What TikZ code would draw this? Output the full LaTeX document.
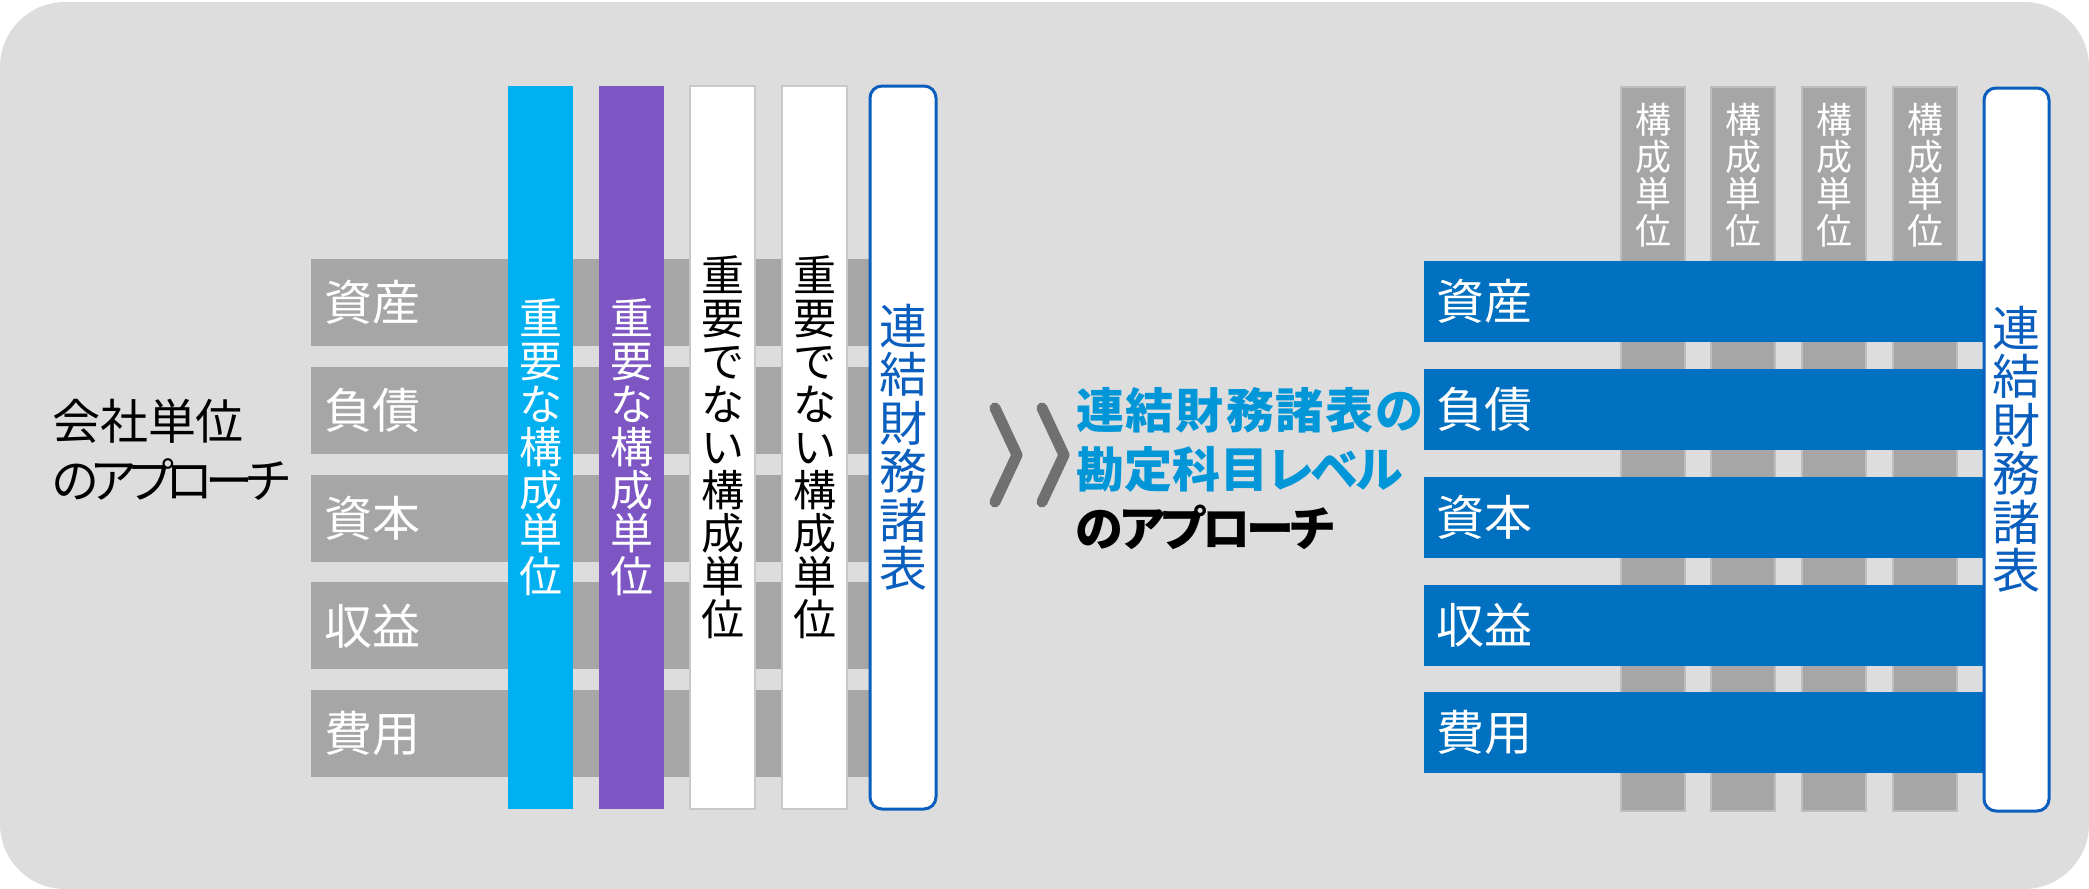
\documentclass[tikz,border=0pt]{standalone}
\usepackage{fontspec}
\newfontfamily\jp{Noto Sans CJK JP}
\newfontfamily\jpp{Noto Sans CJK JP}[RawFeature=+palt]
\definecolor{bgc}{HTML}{DDDDDD}
\definecolor{rowgray}{HTML}{A6A6A6}
\definecolor{colgrayb}{HTML}{BDBDBD}
\definecolor{rowblue}{HTML}{0070C0}
\definecolor{cyanc}{HTML}{00B0F0}
\definecolor{purplec}{HTML}{7E56C4}
\definecolor{wborder}{HTML}{C8C8C8}
\definecolor{outblue}{HTML}{0A5FBE}
\definecolor{midblue}{HTML}{0096D8}
\definecolor{chev}{HTML}{707070}
\newcommand{\kn}{\kern-7pt}
\newcommand{\km}{\kern-3.5pt}
\newcommand{\kp}{\kern2pt}
\begin{document}
\begin{tikzpicture}[x=1pt,y=-1pt,
  every node/.style={inner sep=0pt, outer sep=0pt},
  lrow/.style={rectangle, fill=rowgray, anchor=north west, minimum width=559pt,
    minimum height=87pt, text width=533pt, inner xsep=13pt, align=left,
    text=white, font=\jpp\fontsize{48}{48}\selectfont},
  rrow/.style={rectangle, fill=rowblue, anchor=north west, minimum width=560pt,
    minimum height=81pt, text width=536pt, inner xsep=12pt, align=left,
    text=white, font=\jpp\fontsize{48}{48}\selectfont},
  colbox/.style={rectangle, anchor=north west, minimum width=65pt,
    minimum height=723pt, align=center, font=\jp\fontsize{43}{43}\selectfont},
  whitecol/.style={colbox, fill=white, draw=wborder, line width=2.5pt, text=black},
  outbox/.style={colbox, fill=white, draw=outblue, line width=3pt, rounded corners=12pt,
    text=outblue, font=\jp\fontsize{48}{48.5}\selectfont},
  graycol/.style={rectangle, anchor=north west, minimum width=64pt, minimum height=724pt,
    fill=rowgray, draw=colgrayb, line width=2pt},
  graylbl/.style={anchor=north, align=center, text=white,
    font=\jp\fontsize{36}{37}\selectfont},
  chevron/.style={draw=chev, line width=11pt, line cap=round, line join=round}
]
\useasboundingbox (0,0) rectangle (2089,889);
\fill[bgc, rounded corners=65pt] (0,2) rectangle (2089,889);

% ---------- left: company-unit approach ----------
\node[anchor=west, align=left, font=\jpp\fontsize{48}{59}\selectfont] (lefttitle)
  at (52,449.5) {会社単位\\の\kn ア\kn プ\kn ロ\kn ー\kn チ};

\node[lrow] (la) at (311,259)    {資産};
\node[lrow] (ll) at (311,366.75) {負債};
\node[lrow] (le) at (311,474.5)  {資本};
\node[lrow] (lr) at (311,582.25) {収益};
\node[lrow] (lx) at (311,690)    {費用};

\node[colbox, fill=cyanc, text=white] (c1) at (508,86) {重\\要\\な\\構\\成\\単\\位};
\node[colbox, fill=purplec, text=white] (c2) at (599,86) {重\\要\\な\\構\\成\\単\\位};
\node[whitecol] (c3) at (690,86) {重\\要\\で\\な\\い\\構\\成\\単\\位};
\node[whitecol] (c4) at (782,86) {重\\要\\で\\な\\い\\構\\成\\単\\位};
\node[outbox, minimum width=66pt] (lfs) at (870,86) {連\\結\\財\\務\\諸\\表};

% ---------- middle ----------
\draw[chevron] (995,408) -- (1017,455) -- (995,502);
\draw[chevron] (1042,408) -- (1064,455) -- (1042,502);

\node[anchor=west, align=left, font=\jpp\bfseries\fontsize{48}{59}\selectfont] (midtitle)
  at (1076,469) {\textcolor{midblue}{連\kp 結\kp 財\kp 務\kp 諸\kp 表\kp の}\\\textcolor{midblue}{勘定科目レ\kern-2ptベ\kern-2ptル}\\の\km ア\km プ\km ロ\km ー\km チ};

% ---------- right: account-level approach ----------
\node[graycol] (g1) at (1621,87) {};
\node[graycol] (g2) at (1711,87) {};
\node[graycol] (g3) at (1802,87) {};
\node[graycol] (g4) at (1893,87) {};
\node[graylbl] (g1l) at ([yshift=-16pt]g1.north) {構\\成\\単\\位};
\node[graylbl] (g2l) at ([yshift=-16pt]g2.north) {構\\成\\単\\位};
\node[graylbl] (g3l) at ([yshift=-16pt]g3.north) {構\\成\\単\\位};
\node[graylbl] (g4l) at ([yshift=-16pt]g4.north) {構\\成\\単\\位};

\node[rrow] (ra) at (1424,261) {資産};
\node[rrow] (rl) at (1424,369) {負債};
\node[rrow] (re) at (1424,477) {資本};
\node[rrow] (rr) at (1424,584.5) {収益};
\node[rrow] (rx) at (1424,692) {費用};

\node[outbox, minimum width=65pt, minimum height=723pt] (rfs) at (1984,88) {連\\結\\財\\務\\諸\\表};
\end{tikzpicture}
\end{document}
